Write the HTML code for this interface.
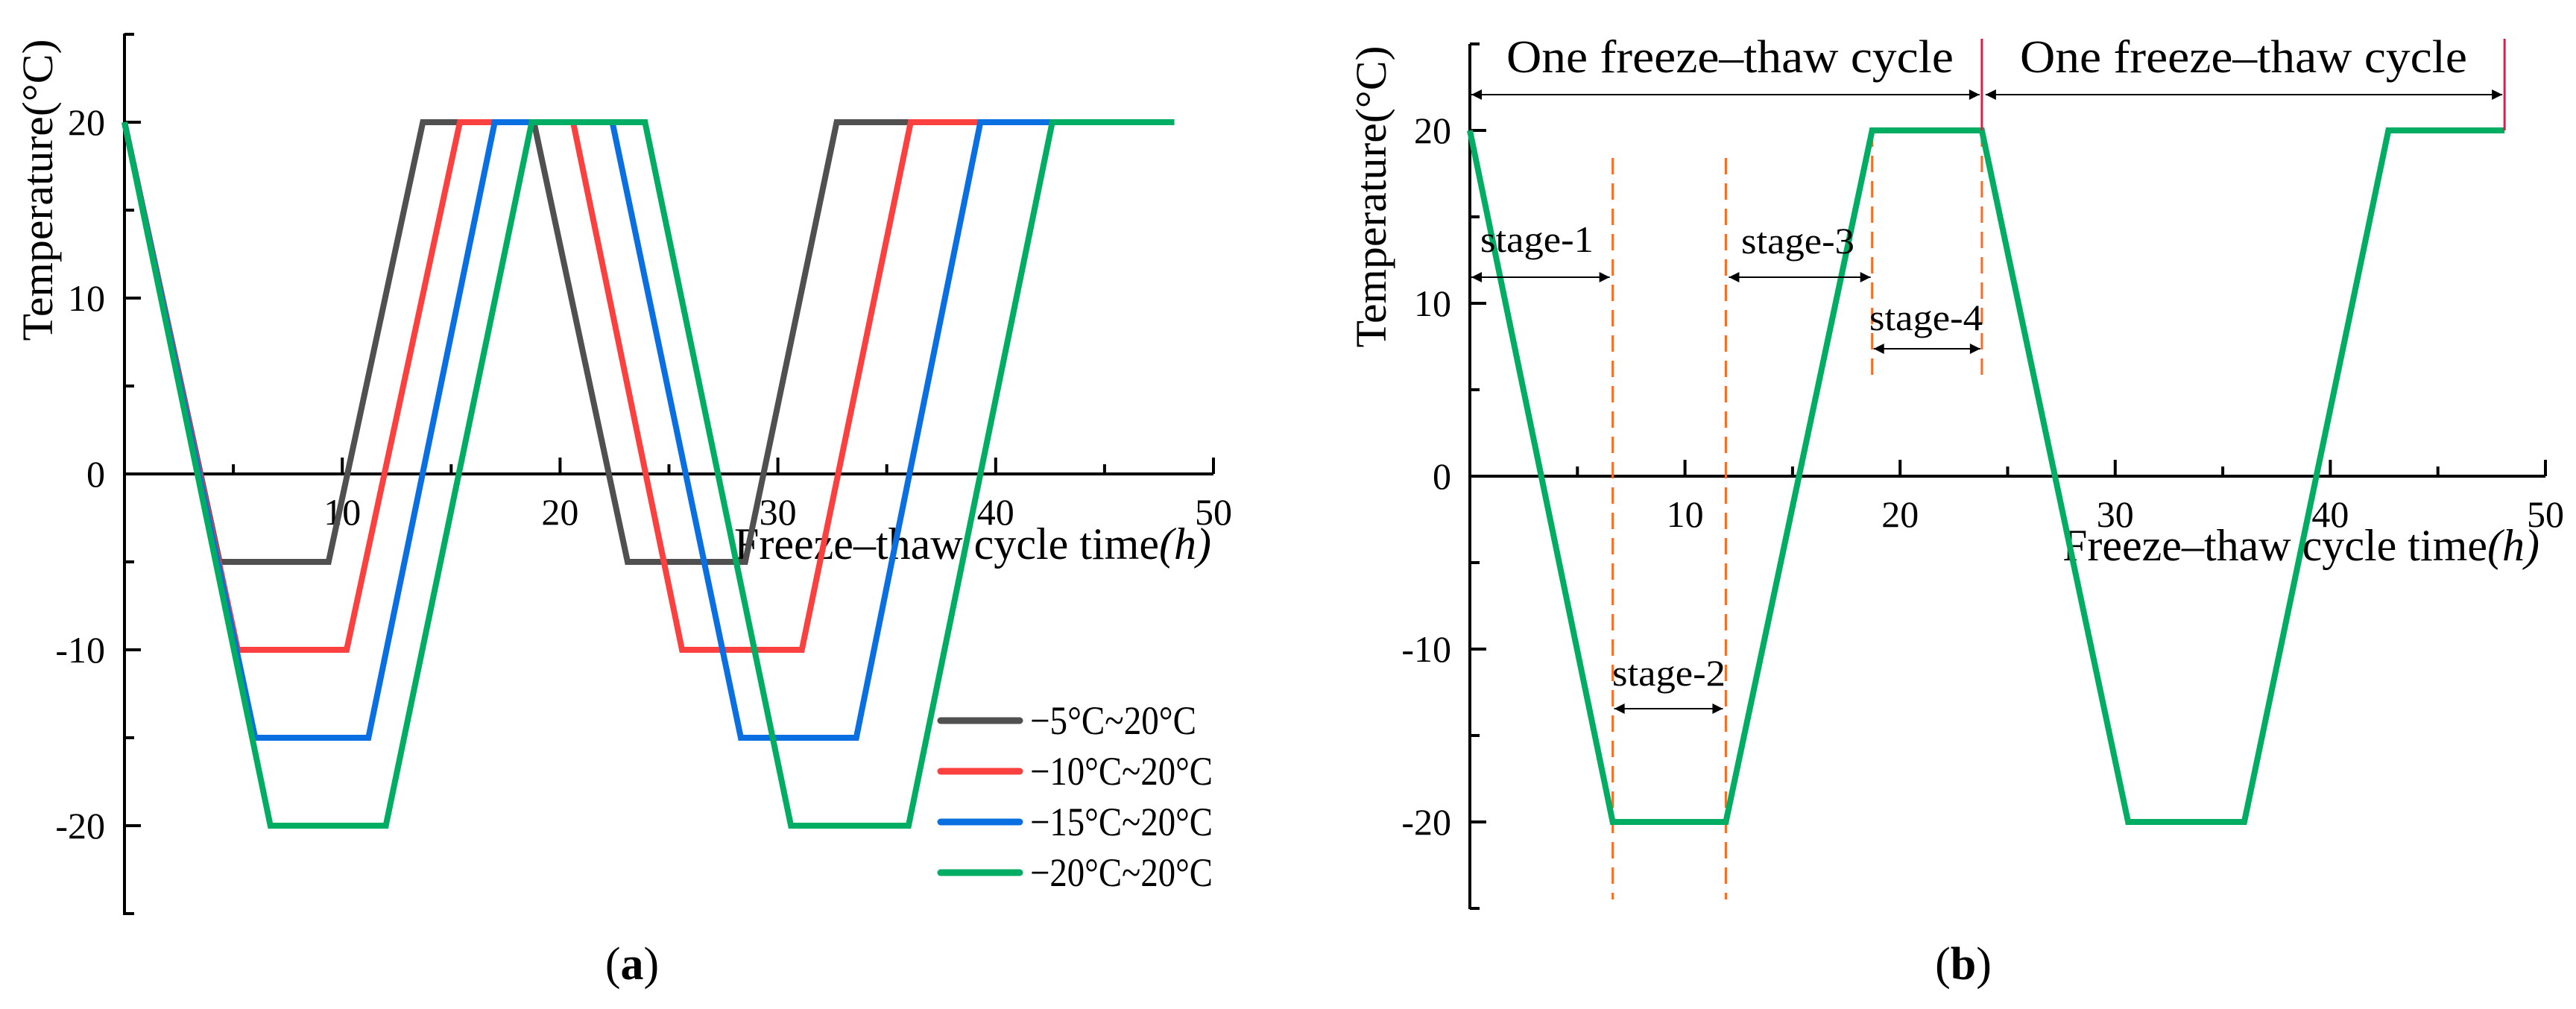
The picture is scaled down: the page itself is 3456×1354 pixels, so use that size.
<!DOCTYPE html>
<html><head><meta charset="utf-8"><style>
html,body{margin:0;padding:0;background:#fff}
svg{display:block}
text{font-family:"Liberation Serif",serif;fill:#000}
</style></head>
<body>
<svg id="fig" width="3456" height="1354" viewBox="0 0 3456 1354" xmlns="http://www.w3.org/2000/svg">
<defs>
<marker id="ah" viewBox="0 0 10 10" refX="10" refY="5" markerWidth="22" markerHeight="14" markerUnits="userSpaceOnUse" orient="auto-start-reverse"><path d="M0,0 L10,5 L0,10 z" fill="#000"/></marker>
</defs>
<g id="pa"></g>
<g id="pb"></g>
</svg>
<script>
const seriesNames = ["−5°C~20°C","−10°C~20°C","−15°C~20°C","−20°C~20°C"];
const seriesColors = ["#505050","#fb4040","#0a6fe0","#00ad63"];
const seriesT = [
 [0,4.37,9.37,13.7,18.8,23.1,28.5,32.7,48.2],
 [0,5.2,10.2,15.4,20.6,25.6,31.1,36.1,48.2],
 [0,6.0,11.2,17.0,22.4,28.3,33.6,39.3,48.2],
 [0,6.7,12.0,18.7,23.9,30.6,36.0,42.6,48.2]
];
const seriesV = [
 [20,-5,-5,20,20,-5,-5,20,20],
 [20,-10,-10,20,20,-10,-10,20,20],
 [20,-15,-15,20,20,-15,-15,20,20],
 [20,-20,-20,20,20,-20,-20,20,20]
];
const bT = [0,6.64,11.9,18.7,23.8,30.6,36.0,42.7,48.1];
const bV = [20,-20,-20,20,20,-20,-20,20,20];
const xTicks = [10,20,30,40,50];
const yTicks = [20,10,0,-10,-20];
const cycleEnds = [23.8,48.1];
const NS="http://www.w3.org/2000/svg";
function mk(parent,tag,attrs,txt){const e=document.createElementNS(NS,tag);for(const k in attrs)e.setAttribute(k,attrs[k]);if(txt!==undefined)e.textContent=txt;parent.appendChild(e);return e;}

function axes(g,X,Y,x0,top,bottom,ylabX,titleY,titleX){
  let e=mk(g,'line',{x1:x0,y1:top,x2:x0,y2:bottom,stroke:'#000','stroke-width':4});
  
  
  e=mk(g,'line',{x1:x0,y1:Y(0),x2:X(50),y2:Y(0),stroke:'#000','stroke-width':4});
  
  
  for(let v=-25;v<=25;v+=5){const maj=v%10===0;
    e=mk(g,'line',{x1:x0,y1:Y(v),x2:x0+(maj?22:13),y2:Y(v),stroke:'#000','stroke-width':4});
    
    }
  for(let v=5;v<=50;v+=5){const maj=v%10===0;
    e=mk(g,'line',{x1:X(v),y1:Y(0),x2:X(v),y2:Y(0)-(maj?22:13),stroke:'#000','stroke-width':4});
    
    }
  yTicks.forEach(v=>{e=mk(g,'text',{x:ylabX,y:Y(v)+17,'font-size':50,'text-anchor':'end'},String(v));
    
    });
  xTicks.forEach(v=>{e=mk(g,'text',{x:X(v),y:Y(0)+68,'font-size':50,'text-anchor':'middle'},String(v));
    
    });
  e=mk(g,'text',{x:0,y:0,'font-size':58,'text-anchor':'middle',transform:`translate(${titleY[0]},${titleY[1]}) rotate(-90)`,textLength:405,lengthAdjust:'spacingAndGlyphs'},'Temperature(°C)');
  
  
  e=mk(g,'text',{x:titleX[0],y:titleX[1],'font-size':60,textLength:640,lengthAdjust:'spacingAndGlyphs'});
  
  
  mk(e,'tspan',{},'Freeze–thaw cycle time');
  mk(e,'tspan',{'font-style':'italic'},'(h)');
}
// Panel A
(function(){
  const g=document.getElementById('pa');
  const x0=167, px=29.22, y0=636, py=23.6;
  const X=t=>x0+t*px, Y=v=>y0-v*py;
  axes(g,X,Y,x0,45,1228,141,[70,255],[985,750]);
  seriesT.forEach((ts,i)=>{
    const pts=ts.map((t,j)=>X(t)+','+Y(seriesV[i][j])).join(' ');
    let e=mk(g,'polyline',{points:pts,fill:'none',stroke:seriesColors[i],'stroke-width':8,'stroke-linejoin':'miter'});
    
    
  });
  seriesNames.forEach((n,i)=>{
    const y=967+i*68;
    let e=mk(g,'line',{x1:1262,y1:y,x2:1368,y2:y,stroke:seriesColors[i],'stroke-width':9,'stroke-linecap':'round'});
    
    
    e=mk(g,'text',{x:1382,y:y+18,'font-size':54,textLength:i===0?223:245,lengthAdjust:'spacingAndGlyphs'},n);
    
    
  });
  let e=mk(g,'text',{x:848,y:1314,'font-size':62,'text-anchor':'middle'});
  
  
  mk(e,'tspan',{},'(');mk(e,'tspan',{'font-weight':'bold'},'a');mk(e,'tspan',{},')');
})();
// Panel B
(function(){
  const g=document.getElementById('pb');
  const x0=1972, px=28.86, y0=639, py=23.2;
  const X=t=>x0+t*px, Y=v=>y0-v*py;
  axes(g,X,Y,x0,59,1220,1947,[1859,264],[2767,752]);
  [[bT[1],212,1207],[bT[2],212,1207],[bT[3],175,515],[bT[4],175,515]].forEach(d=>{
    let e=mk(g,'line',{x1:X(d[0]),y1:d[1],x2:X(d[0]),y2:d[2],stroke:'#ff6a1f','stroke-width':3,'stroke-dasharray':'22,12'});
    
    
  });
  let e=mk(g,'polyline',{points:bT.map((t,j)=>X(t)+','+Y(bV[j])).join(' '),fill:'none',stroke:'#00ad63','stroke-width':8});
  
  
  cycleEnds.forEach(t=>{
    e=mk(g,'line',{x1:X(t),y1:52,x2:X(t),y2:Y(20),stroke:'#e8194a','stroke-width':3});
    
    
  });
  function arrow(a,b,y,name){
    const e=mk(g,'line',{x1:a,y1:y,x2:b,y2:y,stroke:'#000','stroke-width':2,'marker-start':'url(#ah)','marker-end':'url(#ah)'});
    
    
  }
  function label(x,y,s,fs,name,tl){
    const a={x:x,y:y,'font-size':fs,'text-anchor':'middle'};
    if(tl){a.textLength=tl;a.lengthAdjust='spacingAndGlyphs';}
    const e=mk(g,'text',a,s);
    
    
  }
  arrow(X(0)+2,X(cycleEnds[0])-3,127,'cycle-arrow-1');
  arrow(X(cycleEnds[0])+5,X(cycleEnds[1])-3,127,'cycle-arrow-2');
  label(2321,97,'One freeze–thaw cycle',62,'cycle-label-1',600);
  label(3010,97,'One freeze–thaw cycle',62,'cycle-label-2',600);
  arrow(X(0)+2,X(bT[1])-4,372,'stage-1-arrow');
  label(2062,338,'stage-1',50,'stage-1-label',152);
  arrow(X(bT[2])+4,X(bT[3])-2,372,'stage-3-arrow');
  label(2412,340,'stage-3',50,'stage-3-label',152);
  arrow(X(bT[3])+2,X(bT[4])-2,468,'stage-4-arrow');
  label(2584,443,'stage-4',50,'stage-4-label',152);
  arrow(X(bT[1])+2,X(bT[2])-4,951,'stage-2-arrow');
  label(2239,920,'stage-2',50,'stage-2-label',152);
  e=mk(g,'text',{x:2634,y:1314,'font-size':62,'text-anchor':'middle'});
  
  
  mk(e,'tspan',{},'(');mk(e,'tspan',{'font-weight':'bold'},'b');mk(e,'tspan',{},')');
})();
</script>
</body></html>
